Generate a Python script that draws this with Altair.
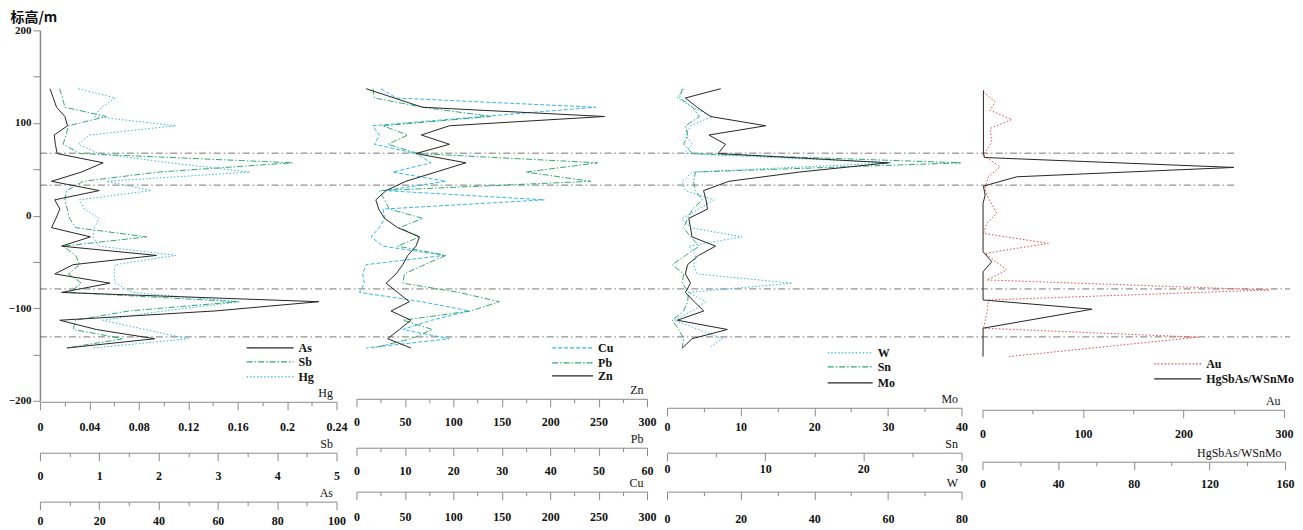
import altair as alt
import pandas as pd

# ---------------- data ----------------
ELEV = [137, 127, 117, 107, 97, 87, 77, 67, 57, 47, 37, 27, 17, 7, -3, -13,
        -23, -33, -43, -53, -63, -73, -83, -93, -103, -113, -123, -133, -143]

AS = [3.4, 4.5, 5.6, 8.4, 9.3, 4.8, 5.2, 5.8, 21.3, 14.0, 3.9, 20.0, 5.0, 6.7, 5.4,
      3.9, 17.0, 7.3, 39.3, 11.2, 5.0, 23.6, 7.3, 94.0, 59.0, 6.7, 19.0, 38.7, 9.0]
SB = [0.33, 0.38, 0.42, 1.12, 0.48, 0.44, 0.39, 0.67, 4.26, 2.0, 0.73, 0.45, 0.42, 0.46,
      0.5, 0.6, 1.8, 0.39, 0.6, 0.67, 0.48, 0.7, 0.5, 3.33, 1.5, 0.6, 0.56, 1.4, 0.45]
HG = [0.031, 0.061, 0.050, 0.044, 0.110, 0.040, 0.031, 0.048, 0.105, 0.170, 0.054,
      0.090, 0.032, 0.036, 0.048, 0.044, 0.043, 0.048, 0.110, 0.061, 0.060, 0.061,
      0.075, 0.162, 0.100, 0.051, 0.085, 0.120, 0.043]

ZN = [10, 39, 68, 256, 96, 67, 96, 61.5, 113, 82, 51, 30.6, 20, 23, 29, 42.6, 65,
      61.5, 53, 47.8, 40.9, 30.6, 42.6, 54.6, 35.7, 56.3, 44.3, 32.3, 56.3]
PB = [3.4, 3.7, 13.7, 27.8, 5.4, 10.6, 6.5, 12.7, 49.8, 35, 48.4, 4.7, 5.8, 6.8, 13.7,
      8.9, 13, 8.5, 18.5, 14, 9.9, 9.6, 21.2, 29.5, 23.6, 9.6, 15.7, 11.3, 3.4]
CU = [25.4, 41, 247, 130, 16.8, 23.7, 18.6, 61.5, 77, 37.5, 92.4, 28.9, 194, 27.5, 29,
      23.7, 15.1, 27.5, 90.7, 10, 6.5, 8.2, 3.1, 67.7, 116.5, 77.6, 47.8, 95.9, 10]

MO = [7.3, 2.5, 4.1, 5.9, 13.4, 5.7, 7.95, 6.96, 30.1, 18, 8.4, 4.97, 5.3, 5.5, 2.96,
      3.2, 3.4, 6.6, 4.3, 2.8, 2.5, 3.2, 2.5, 3.7, 5.0, 1.4, 8.2, 3.4, 2.1]
SN = [1.56, 1.29, 2.6, 3.3, 1.9, 2.1, 1.7, 2.6, 30.0, 2.9, 2.7, 2.9, 3.6, 2.6, 2.1,
      1.7, 2.4, 3.3, 1.9, 0.54, 1.7, 1.56, 2.2, 2.1, 1.7, 0.54, 1.2, 1.7, 1.56]
W = [4.6, 2.8, 6.9, 12.3, 6.4, 5.1, 6.9, 4.6, 61, 6.9, 4.1, 5.0, 12.7, 8.6, 4.1, 6.3,
     20.4, 5.9, 7.8, 7.3, 8.2, 34, 5.9, 10.5, 6.9, 1.9, 8.6, 15, 11.4]

AU_ELEV = [133.5, 122.7, 113.7, 103.7, 94, 79.6, 65.2, 52.6, 41.8, 30.4, 22.1, 2.4,
           -8.4, -19.2, -30, -40.8, -58.8, -69.5, -80.3, -91.1, -105.5, -121.6,
           -131.3, -152.2]
AU = [1, 12.6, 7.6, 29.1, 7.6, 9.3, 1, 17.5, 6, 2.6, 4.3, 14.2, 4.3, 1, 65.5, 2.6,
      24.2, 4.3, 285.7, 6, 4.3, 1, 214.5, 26.5]

RATIO_ELEV = [135.3, 67.0, 62.7, 52.0, 41.9, 31.8, 22.1, 13.1, -39.0, -49.8, -60.6,
              -91.1, -101.1, -121.6, -152.2]
RATIO = [0.5, 0.5, 1.0, 133, 18.2, 0.5, 1.4, 0.3, 0.3, 4.9, 0.3, 0.3, 57.9, 0.3, 0.3]

BOUNDARY_UPPER = [67.4, 32.9]
BOUNDARY_LOWER = [-79.2, -131.0]

Y_TICKS = [200, 150, 100, 50, 0, -50, -100, -150, -200]

# ---------------- styles ----------------
FONT = "Liberation Serif"
BLACK = "#262626"
BLUE = "#35b8ea"
GREEN = "#2fab6d"
RED = "#f04545"
AXIS_GRAY = "#8a8a8a"
DOT = [1.5, 2]
DASH = [4, 2]
DASHDOT = [6, 2, 1.5, 2]

Y = alt.Y(
    "elev:Q",
    scale=alt.Scale(domain=[-200, 200], nice=False, zero=False),
    axis=alt.Axis(
        values=Y_TICKS,
        labelExpr="datum.value % 100 === 0 ? datum.label : ''",
        tickSize=7, labelPadding=2, domainColor=AXIS_GRAY, domainWidth=1.5,
        tickColor=AXIS_GRAY, grid=False,
        labelFont=FONT, labelFontWeight="bold", labelFontSize=11, labelColor="#111",
        title="标高/m", titleAngle=0, titleX=-30, titleY=-20, titleAlign="left",
        titleBaseline="top", titleFont="Noto Sans CJK SC", titleFontSize=14,
        titleFontWeight="bold", titleColor="#111",
    ),
)


def ticks(dmax, step):
    n = int(round(dmax / step))
    return [round(i * step, 6) for i in range(n + 1)]


def series_layer(name, elev, vals, color, dash, dmax, step, major, rng, offset,
                 lpad, leg):
    df = pd.DataFrame({"elev": elev, "val": vals, "i": list(range(len(vals))),
                       "series": name})
    test = f"abs(datum.value/{major} - round(datum.value/{major})) < 0.001"
    axis = alt.Axis(
        orient="bottom", offset=offset, values=ticks(dmax, step),
        labelExpr=f"{test} ? format(datum.value, '~g') : ''",
        tickSize={"condition": {"test": test, "value": 8}, "value": 4},
        labelFlush=False, labelOverlap=False, grid=False,
        domainColor=AXIS_GRAY, tickColor=AXIS_GRAY,
        labelFont=FONT, labelFontWeight="bold", labelFontSize=12, labelColor="#111",
        labelPadding=lpad,
        title=name, titleX=rng[1] - 4, titleY=-2, titleAlign="right",
        titleBaseline="bottom", titleFont=FONT, titleFontWeight="normal",
        titleFontSize=12, titleColor="#111",
    )
    lx, ly, llen = leg
    legend_kw = dict(
        orient="none", legendX=lx, legendY=ly - llen / 2, title=None,
        symbolType="stroke", symbolSize=llen * llen, symbolStrokeWidth=1.2,
        labelFont=FONT, labelFontWeight="bold", labelFontSize=12, labelColor="#111",
        labelOffset=4, padding=0, labelLimit=200,
    )
    mark_kw = dict(strokeWidth=1.0)
    if dash:
        legend_kw["symbolDash"] = dash
        mark_kw["strokeDash"] = dash
    return alt.Chart(df).mark_line(**mark_kw).encode(
        x=alt.X("val:Q", scale=alt.Scale(domain=[0, dmax], range=rng, nice=False,
                                         zero=False), axis=axis),
        y=Y,
        order="i:Q",
        color=alt.Color("series:N", scale=alt.Scale(domain=[name], range=[color]),
                        legend=alt.Legend(**legend_kw)),
    )


P1 = [0, 297]
P2 = [317, 608]
P3 = [628, 923]
P4 = [944, 1246]
P4b = [944, 1247]

layers = []
for vals, xend in ((BOUNDARY_UPPER, 1197), (BOUNDARY_LOWER, 1252)):
    layers.append(
        alt.Chart(pd.DataFrame({"elev": vals}))
        .mark_rule(color="#555555", strokeWidth=0.8, strokeDash=[7, 3, 1.5, 3])
        .encode(y=Y, x=alt.value(0), x2=alt.value(xend))
    )

specs = [
    ("Hg", ELEV, HG, BLUE, DOT, 0.24, 0.02, 0.04, P1, 1, 12, (206, 346, 47)),
    ("Sb", ELEV, SB, GREEN, DASHDOT, 5, 0.5, 1, P1, 52, 10, (206, 331, 47)),
    ("Cu", ELEV, CU, BLUE, DASH, 300, 25, 50, P2, 91, 12, (512, 317, 41)),
    ("Pb", ELEV, PB, GREEN, DASHDOT, 60, 5, 10, P2, 47, 10, (512, 332, 41)),
    ("W", ELEV, W, BLUE, DOT, 80, 10, 20, P3, 91, 14, (788, 322, 45)),
    ("Sn", ELEV, SN, GREEN, DASHDOT, 30, 5, 10, P3, 52, 3, (788, 336, 45)),
    ("Au", AU_ELEV, AU, RED, DOT, 300, 50, 100, P4, 9, 11, (1115, 333, 47)),
    ("As", ELEV, AS, BLACK, None, 100, 10, 20, P1, 101, 6, (206, 317, 47)),
    ("Zn", ELEV, ZN, BLACK, None, 300, 25, 50, P2, -2, 10, (512, 345, 41)),
    ("Mo", ELEV, MO, BLACK, None, 40, 5, 10, P3, 7, 6, (788, 352, 45)),
    ("HgSbAs/WSnMo", RATIO_ELEV, RATIO, BLACK, None, 160, 20, 40, P4b, 61, 9,
     (1115, 348, 47)),
]
for s in specs:
    layers.append(series_layer(*s))

chart = (
    alt.layer(*layers)
    .resolve_scale(x="independent", color="independent")
    .resolve_axis(x="independent")
    .resolve_legend(color="independent")
    .properties(width=1252, height=371, autosize="none",
                padding={"left": 32, "top": 22, "right": 5, "bottom": 129},
                background="white")
    .configure_view(strokeWidth=0)
)

chart.save("out.html", embed_options={"renderer": "svg", "actions": False})
